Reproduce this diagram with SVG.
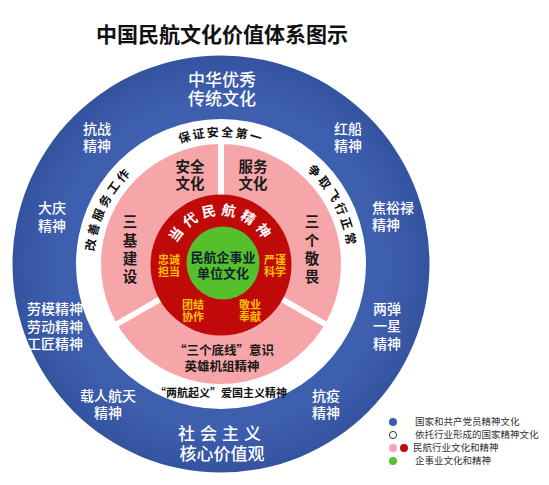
<svg xmlns="http://www.w3.org/2000/svg" width="549" height="485" viewBox="0 0 549 485">
<style>
text{font-family:"Noto Sans CJK SC","Noto Sans",sans-serif;dominant-baseline:central;text-anchor:middle}
.t{font-size:21px;font-weight:700;fill:#111}
.big{font-size:17px;font-weight:500;fill:#fff}
.ob{font-size:14px;font-weight:500;fill:#fff}
.wr{font-size:12px;font-weight:700;fill:#111;letter-spacing:3px;dominant-baseline:auto}
.pk{font-size:14.5px;font-weight:700;fill:#1a1a1a}
.vt{font-size:14.5px;font-weight:700;fill:#1a1a1a;writing-mode:vertical-rl;letter-spacing:3.7px}
.pk2{font-size:12.5px;font-weight:700;fill:#1a1a1a}
.rd{font-size:14px;font-weight:700;fill:#fff;letter-spacing:4.5px;dominant-baseline:auto}
.or{font-size:11px;font-weight:700;fill:#FFC000}
.gr{font-size:13px;font-weight:700;fill:#123}
.lg{font-family:"Liberation Serif","Noto Sans CJK SC",serif;font-size:9.5px;fill:#333;text-anchor:start}
.div{stroke:#fff;stroke-width:6}
</style>
<defs>
<radialGradient id="gb" cx="50%" cy="50%" r="50%">
<stop offset="0.8" stop-color="#3E5EAE"/>
<stop offset="1" stop-color="#34539F"/>
</radialGradient>
<path id="pw" d="M93.5 264 A127.5 127.5 0 0 1 348.5 264 A127.5 127.5 0 0 1 93.5 264"/>
<path id="pr" d="M172.2 264 A48.8 48.8 0 0 1 269.8 264 A48.8 48.8 0 0 1 172.2 264"/>
</defs>
<rect width="549" height="485" fill="#fff"/>
<g id="title"><text class="t" x="222" y="33">中国民航文化价值体系图示</text></g>
<g id="ring-blue">
<circle cx="221" cy="264" r="208.5" fill="url(#gb)"/>
<text class="big"><tspan x="222" y="78">中华优秀</tspan><tspan x="222" y="97">传统文化</tspan></text>
<text class="ob"><tspan x="97" y="128">抗战</tspan><tspan x="97" y="145">精神</tspan></text>
<text class="ob"><tspan x="348" y="128">红船</tspan><tspan x="348" y="145">精神</tspan></text>
<text class="ob"><tspan x="52" y="207">大庆</tspan><tspan x="52" y="225">精神</tspan></text>
<text class="ob" style="text-anchor:start"><tspan x="372" y="207">焦裕禄</tspan><tspan x="372" y="224">精神</tspan></text>
<text class="ob"><tspan x="55" y="308">劳模精神</tspan><tspan x="55" y="326">劳动精神</tspan><tspan x="55" y="343">工匠精神</tspan></text>
<text class="ob"><tspan x="387" y="308">两弹</tspan><tspan x="387" y="325">一星</tspan><tspan x="387" y="343">精神</tspan></text>
<text class="ob"><tspan x="108" y="395">载人航天</tspan><tspan x="108" y="412">精神</tspan></text>
<text class="ob"><tspan x="326" y="395">抗疫</tspan><tspan x="326" y="412">精神</tspan></text>
<text class="big"><tspan x="222" y="432" style="letter-spacing:5px">社会主义</tspan><tspan x="222" y="452">核心价值观</tspan></text>
</g>
<g id="ring-white">
<circle cx="221" cy="264" r="145" fill="#fff"/>
<text class="wr" style="letter-spacing:2px"><textPath href="#pw" startOffset="25%">保证安全第一</textPath></text>
<text class="wr"><textPath href="#pw" startOffset="7.2%">改善服务工作</textPath></text>
<text class="wr"><textPath href="#pw" startOffset="42.4%">争取飞行正常</textPath></text>
<text x="221" y="392" style="font-size:11px;font-weight:700;fill:#111">“两航起义”爱国主义精神</text>
</g>
<g id="ring-pink">
<circle cx="221" cy="264" r="120" fill="#F6A6A9"/>
<text class="pk"><tspan x="190" y="165">安全</tspan><tspan x="190" y="182">文化</tspan></text>
<text class="pk"><tspan x="253" y="165">服务</tspan><tspan x="253" y="182">文化</tspan></text>
<text class="vt" x="130" y="251">三基建设</text>
<text class="vt" x="312" y="251">三个敬畏</text>
<text class="pk2"><tspan x="224" y="349">“三个底线”意识</tspan><tspan x="222" y="365">英雄机组精神</tspan></text>
</g>
<g id="connectors">
<line class="div" x1="221" y1="196" x2="221" y2="142"/>
<line class="div" x1="279.9" y1="298" x2="326.7" y2="325"/>
<line class="div" x1="162.1" y1="298" x2="115.3" y2="325"/>
</g>
<g id="ring-red">
<circle cx="221" cy="265" r="70.5" fill="#C00A0A"/>
<text class="rd"><textPath href="#pr" startOffset="25%">当代民航精神</textPath></text>
<text class="or"><tspan x="169" y="259">忠诚</tspan><tspan x="169" y="271">担当</tspan></text>
<text class="or"><tspan x="275" y="259">严谨</tspan><tspan x="275" y="271">科学</tspan></text>
<text class="or"><tspan x="193" y="304">团结</tspan><tspan x="193" y="316">协作</tspan></text>
<text class="or"><tspan x="250" y="304">敬业</tspan><tspan x="250" y="316">奉献</tspan></text>
</g>
<g id="core-green">
<circle cx="223" cy="263" r="36.5" fill="#55C02C"/>
<text class="gr"><tspan x="223" y="256">民航企事业</tspan><tspan x="223" y="272">单位文化</tspan></text>
</g>
<g id="legend">
<circle cx="393" cy="422" r="4" fill="#3A5BAE"/>
<circle cx="393" cy="435" r="3.6" fill="#fff" stroke="#333" stroke-width="1"/>
<circle cx="393" cy="448" r="4" fill="#F6A6A9"/>
<circle cx="404" cy="448" r="4" fill="#C00A0A"/>
<circle cx="393" cy="461" r="4" fill="#55C02C"/>
<text class="lg" x="415" y="422">国家和共产党员精神文化</text>
<text class="lg" x="415" y="435">依托行业形成的国家精神文化</text>
<text class="lg" x="413" y="448">民航行业文化和精神</text>
<text class="lg" x="415" y="461">企事业文化和精神</text>
</g>
</svg>
